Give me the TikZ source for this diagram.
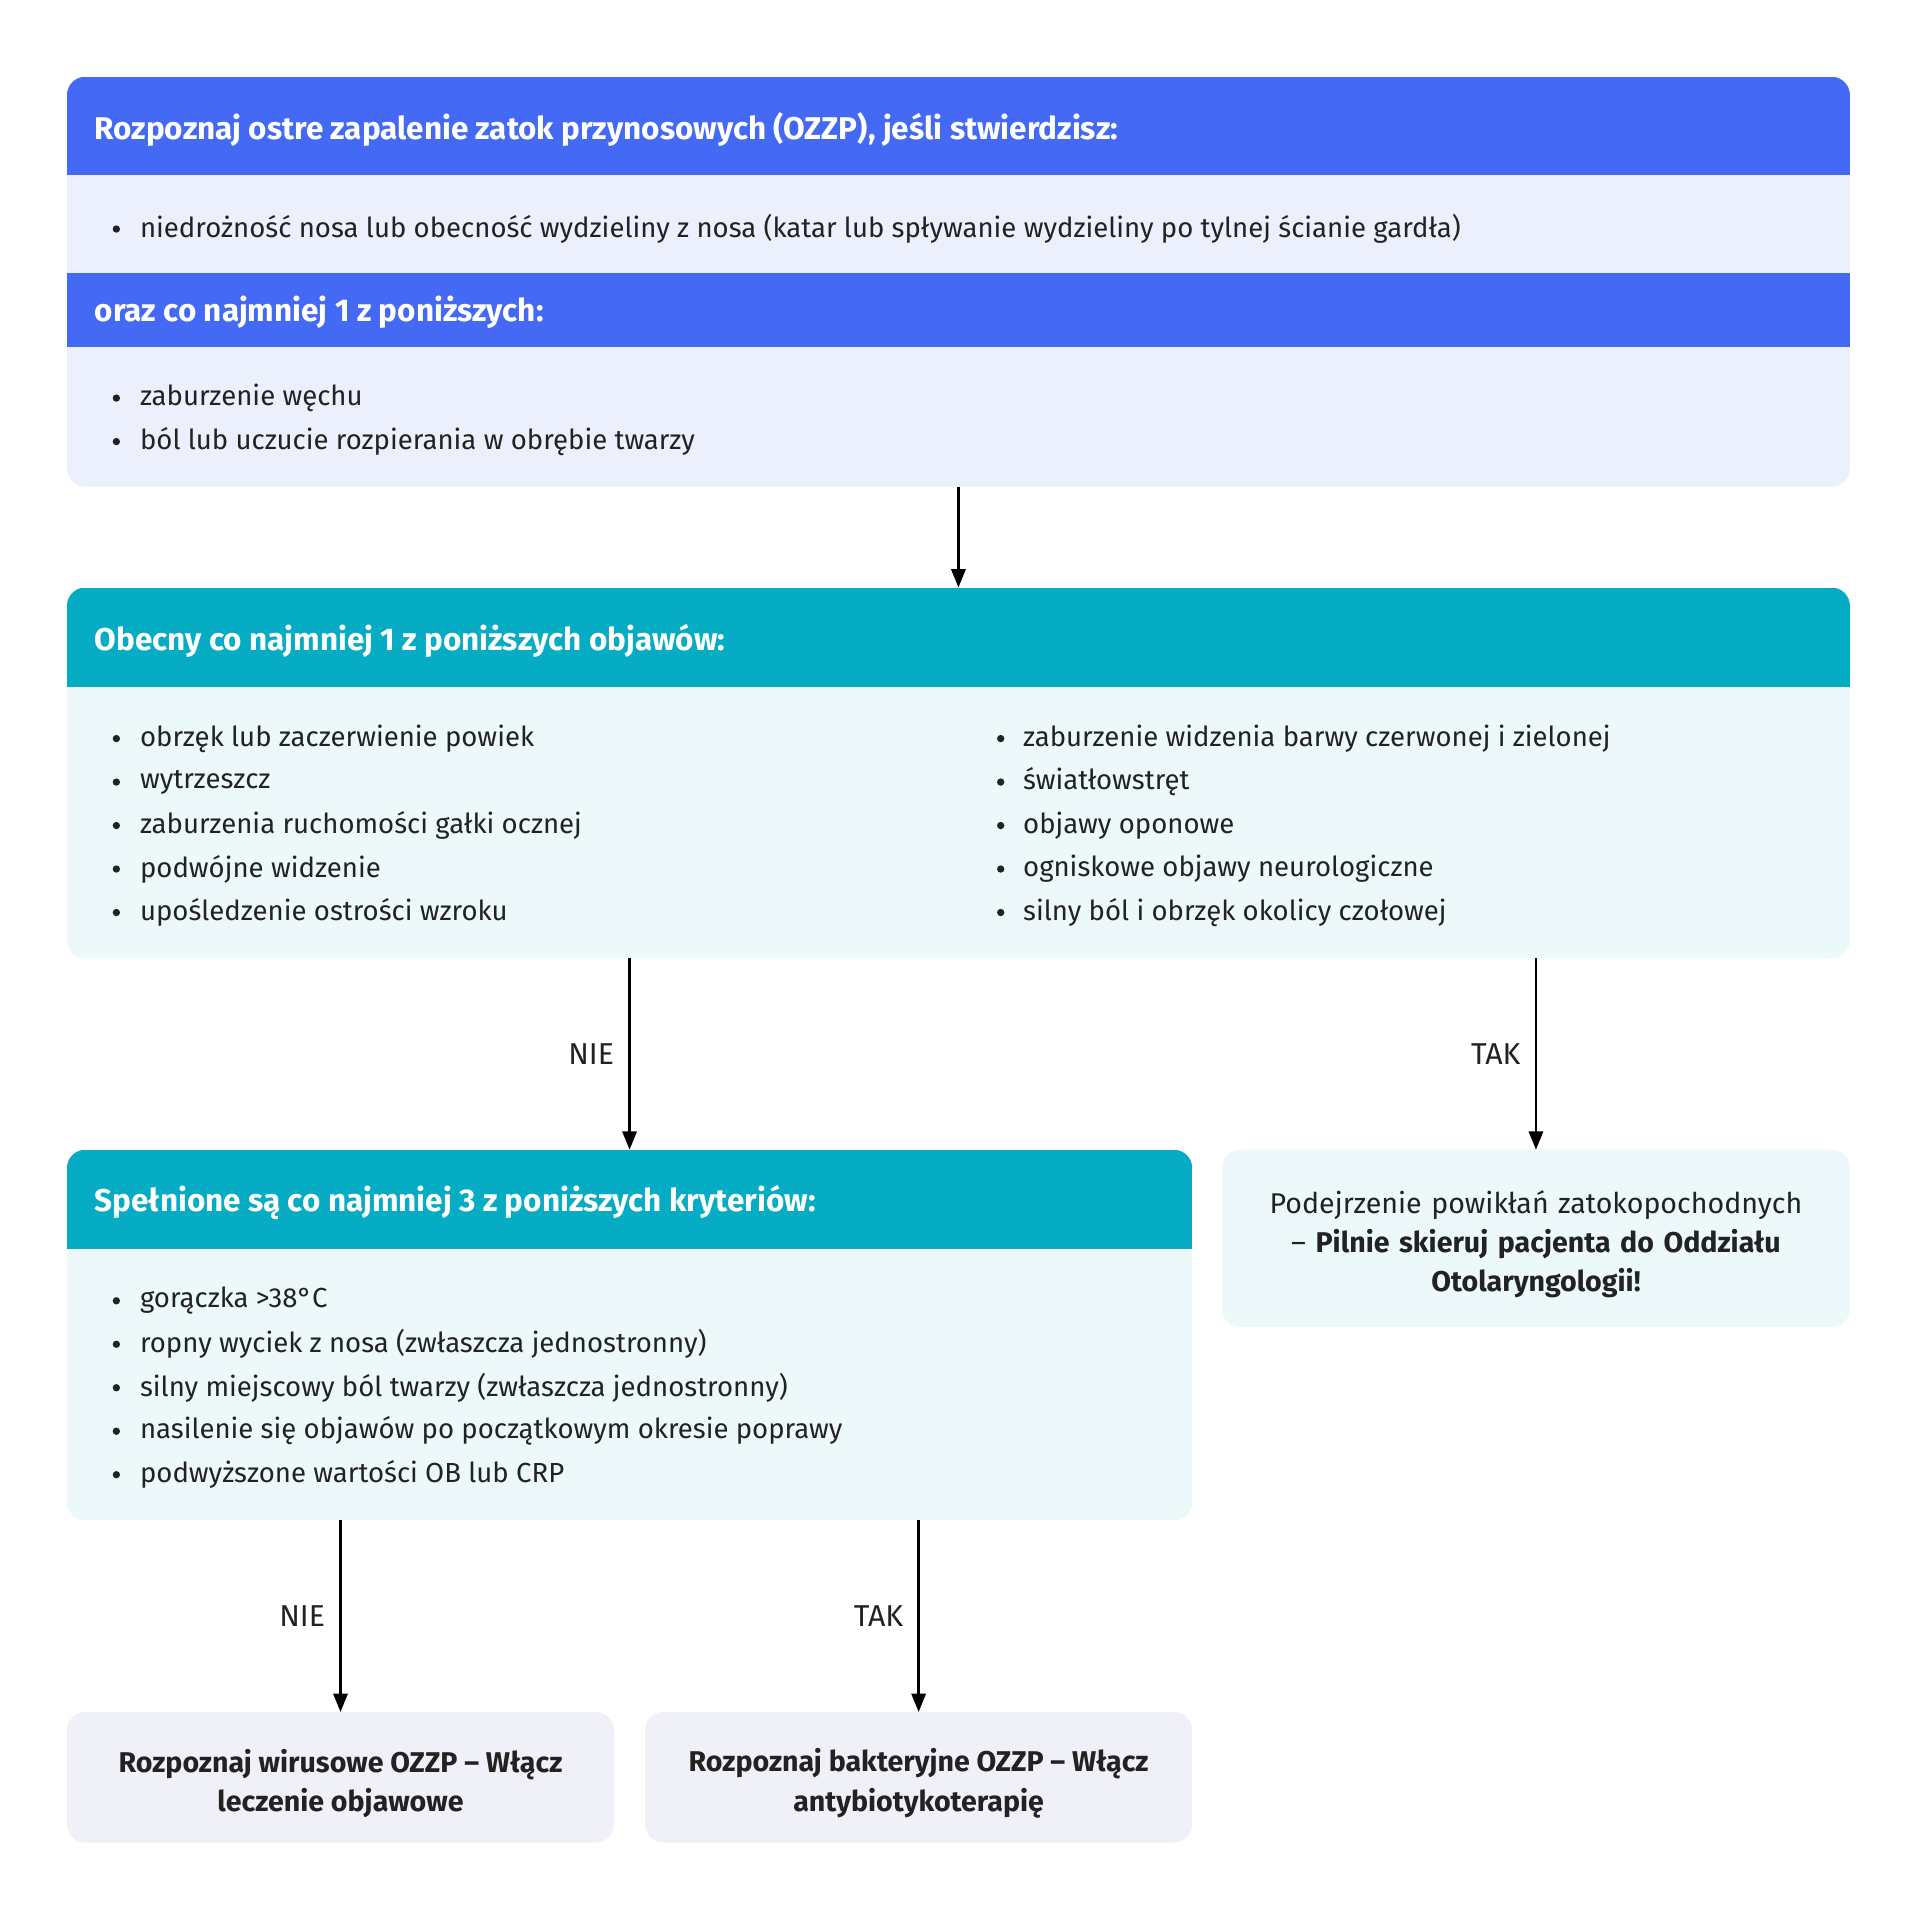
\documentclass[tikz,border=0pt]{standalone}
\usepackage{fontspec}
\setmainfont{Fira Sans}
\usetikzlibrary{arrows.meta, fit}

\definecolor{hdrblue}{HTML}{4369F5}
\definecolor{bodyblue}{HTML}{ECEFFC}
\definecolor{hdrteal}{HTML}{06ACC4}
\definecolor{bodyteal}{HTML}{ECF8FA}
\definecolor{endgray}{HTML}{F0F0F8}
\definecolor{ink}{HTML}{222222}

\newcommand{\itemfont}{\fontsize{13.5}{19}\selectfont}
\newcommand{\headfont}{\bfseries\fontsize{15.4}{18}\selectfont}
\newcommand{\resultfont}{\fontsize{14}{19.2}\selectfont}

\begin{document}
\begin{tikzpicture}[x=0.6pt, y=-0.6pt,
  frame/.style={inner sep=0, fit={#1}},
  header/.style={anchor=west, inner sep=0, text=white, font=\headfont},
  item/.style={anchor=west, inner sep=0, text=ink, font=\itemfont},
  result/.style={inner sep=0, yshift=-3pt, text=ink, align=center, font=\resultfont},
  decision/.style={left=7pt, inner sep=0, text=ink, font=\fontsize{14.8}{18}\selectfont},
  arr/.style={line width=1.2pt, -{Triangle[length=9pt,width=7pt]}},
]
  \useasboundingbox (0,0) rectangle (1568,1570);

  % boxes
  \node[frame={(55,63) (1510,397)}] (rozp) {};
  \node[frame={(55,480) (1510,782)}] (objawy) {};
  \node[frame={(55,939) (973,1241)}] (kryteria) {};
  \node[frame={(998,939) (1510,1083)}] (powiklania) {};
  \node[frame={(55,1398) (501,1504)}] (wirus) {};
  \node[frame={(527,1398) (973,1504)}] (bakteria) {};

  % diagnosis box
  \begin{scope}
    \clip[rounded corners=9pt] (rozp.north west) rectangle (rozp.south east);
    \fill[bodyblue] (rozp.north west) rectangle (rozp.south east);
    \fill[hdrblue] (55,63) rectangle (1510,143);
    \fill[hdrblue] (55,223) rectangle (1510,283);
  \end{scope}
  \node[header] (rozp-h1) at (77,106) {Rozpoznaj ostre zapalenie zatok przynosowych (OZZP), jeśli stwierdzisz:};
  \node[header] (rozp-h2) at (77,255) {oraz co najmniej 1 z poniższych:};
  \fill[ink] (95,187) circle (1.8pt);
  \node[item] (rozp-a) at (114,187) {niedrożność nosa lub obecność wydzieliny z nosa (katar lub spływanie wydzieliny po tylnej ścianie gardła)};
  \foreach \t [count=\i] in {zaburzenie węchu, ból lub uczucie rozpierania w obrębie twarzy}{
    \fill[ink] (95,325+35.5*\i-35.5) circle (1.8pt);
    \node[item] (rozp-b\i) at (114,325+35.5*\i-35.5) {\t};
  }

  % symptoms box
  \begin{scope}
    \clip[rounded corners=9pt] (objawy.north west) rectangle (objawy.south east);
    \fill[bodyteal] (objawy.north west) rectangle (objawy.south east);
    \fill[hdrteal] (55,480) rectangle (1510,561);
  \end{scope}
  \node[header] (objawy-h) at (77,523) {Obecny co najmniej 1 z poniższych objawów:};
  \foreach \t [count=\i] in {obrzęk lub zaczerwienie powiek, wytrzeszcz,
      zaburzenia ruchomości gałki ocznej, podwójne widzenie,
      upośledzenie ostrości wzroku}{
    \fill[ink] (95,603+35.5*\i-35.5) circle (1.8pt);
    \node[item] (objawy-l\i) at (114,603+35.5*\i-35.5) {\t};
  }
  \foreach \t [count=\i] in {zaburzenie widzenia barwy czerwonej i zielonej, światłowstręt,
      objawy oponowe, ogniskowe objawy neurologiczne,
      silny ból i obrzęk okolicy czołowej}{
    \fill[ink] (817,603+35.5*\i-35.5) circle (1.8pt);
    \node[item] (objawy-r\i) at (835,603+35.5*\i-35.5) {\t};
  }

  % criteria box
  \begin{scope}
    \clip[rounded corners=9pt] (kryteria.north west) rectangle (kryteria.south east);
    \fill[bodyteal] (kryteria.north west) rectangle (kryteria.south east);
    \fill[hdrteal] (55,939) rectangle (973,1020);
  \end{scope}
  \node[header] (kryteria-h) at (77,982) {Spełnione są co najmniej 3 z poniższych kryteriów:};
  \foreach \t [count=\i] in {gorączka >38°C, ropny wyciek z nosa (zwłaszcza jednostronny),
      silny miejscowy ból twarzy (zwłaszcza jednostronny),
      nasilenie się objawów po początkowym okresie poprawy,
      podwyższone wartości OB lub CRP}{
    \fill[ink] (95,1062+35.5*\i-35.5) circle (1.8pt);
    \node[item] (kryteria-\i) at (114,1062+35.5*\i-35.5) {\t};
  }

  % end boxes
  \fill[bodyteal, rounded corners=9pt] (powiklania.north west) rectangle (powiklania.south east);
  \node[result, text width=300pt] at (powiklania) {Podejrzenie powikłań zatokopochodnych\\
    – \textbf{Pilnie skieruj pacjenta do Oddziału}\\\textbf{Otolaryngologii!}};
  \fill[endgray, rounded corners=9pt] (wirus.north west) rectangle (wirus.south east);
  \node[result, font=\resultfont\bfseries] at (wirus) {Rozpoznaj wirusowe OZZP – Włącz\\leczenie objawowe};
  \fill[endgray, rounded corners=9pt] (bakteria.north west) rectangle (bakteria.south east);
  \node[result, font=\resultfont\bfseries] at (bakteria) {Rozpoznaj bakteryjne OZZP – Włącz\\antybiotykoterapię};

  % arrows
  \draw[arr] (rozp.south) -- (objawy.north);
  \draw[arr] (objawy.south -| kryteria.north) -- node[decision] {NIE} (kryteria.north);
  \draw[arr] (objawy.south -| powiklania.north) -- node[decision] {TAK} (powiklania.north);
  \draw[arr] (kryteria.south -| wirus.north) -- node[decision] {NIE} (wirus.north);
  \draw[arr] (kryteria.south -| bakteria.north) -- node[decision] {TAK} (bakteria.north);
\end{tikzpicture}
\end{document}
